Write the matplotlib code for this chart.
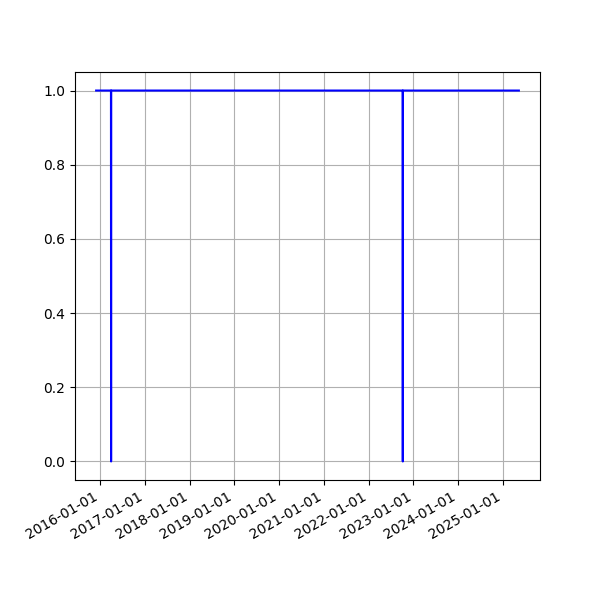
import matplotlib
matplotlib.use("Agg")
import matplotlib.pyplot as plt
import matplotlib.dates as mdates
import pandas as pd

dates = ["2015-11-30", "2016-03-30", "2016-03-31", "2016-04-01",
         "2022-10-05", "2022-10-06", "2022-10-07", "2025-05-10"]
values = [1, 1, 0, 1, 1, 0, 1, 1]

x = pd.to_datetime(dates)
fig, ax = plt.subplots(figsize=(6, 6), dpi=100)
ax.plot(x, values, color="blue")
ax.xaxis.set_major_locator(mdates.YearLocator())
ax.xaxis.set_major_formatter(mdates.DateFormatter("%Y-%m-%d"))
ax.grid(True)
fig.autofmt_xdate()
fig.savefig("out.png", dpi=100)
